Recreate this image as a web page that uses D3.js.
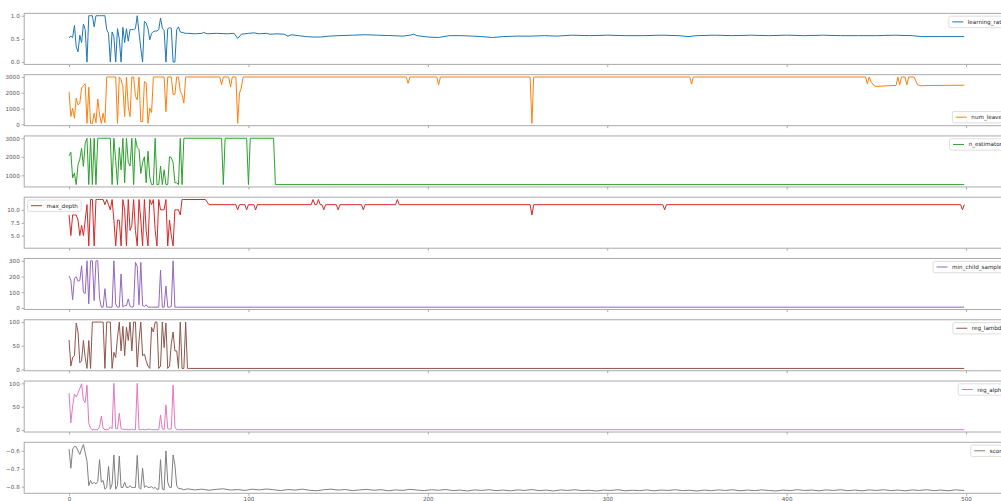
<!DOCTYPE html>
<html><head><meta charset="utf-8">
<script src="https://cdn.jsdelivr.net/npm/d3@7"></script>
<style>
body{margin:0;background:#fff;overflow:hidden}
svg{display:block}
text{font-family:"DejaVu Sans",sans-serif}
</style></head>
<body><svg id="c" width="1001" height="501"></svg>
<script>
// ---- data ----
const iterTicks = [0,100,200,300,400,500];

const learningRateHead = [0.52,0.56,0.53,0.79,0.33,0.22,0.58,0.42,0.82,0.70,0.0,1.0,1.0,1.0,0.76,1.0,1.0,1.0,1.0,1.0,1.0,0.70,0.62,0.0,0.65,0.55,0.0,0.72,0.50,0.0,0.75,0.42,0.72,0.45,0.70,0.70,0.70,0.72,1.0,0.63,0.30,0.0,0.88,0.84,0.72,0.48,0.62,0.66,0.67,0.67,0.70,0.95,0.73,0.68,0.0,0.72,0.74,0.73,0.0,0.0,0.70,0.76,0.65,0.64,0.63,0.62,0.62];
const learningRateTail = [[70,0.61],[74,0.62],[75,0.64],[77,0.61],[82,0.62],[88,0.61],[92,0.62],[94,0.51],[96,0.60],[100,0.62],[103,0.63],[106,0.61],[110,0.62],[112,0.60],[116,0.61],[120,0.60],[122,0.56],[124,0.59],[128,0.57],[132,0.55],[136,0.54],[140,0.54],[145,0.56],[150,0.57],[158,0.58],[165,0.59],[172,0.58],[180,0.57],[186,0.56],[190,0.58],[192,0.60],[194,0.57],[200,0.54],[206,0.53],[212,0.57],[218,0.57],[225,0.56],[230,0.55],[236,0.53],[242,0.55],[250,0.56],[258,0.56],[265,0.57],[272,0.56],[280,0.58],[290,0.57],[300,0.58],[310,0.57],[320,0.57],[330,0.58],[340,0.57],[345,0.55],[350,0.57],[360,0.58],[370,0.57],[380,0.58],[390,0.57],[400,0.58],[410,0.57],[420,0.58],[430,0.57],[440,0.57],[450,0.57],[460,0.58],[470,0.57],[475,0.55],[485,0.55],[499,0.55]];
const learningRateTicks = [0.0,0.5,1.0];

const numLeavesHead = [2050,490,1020,380,1660,1230,1340,2300,2450,2570,60,2360,60,60,700,100,1600,600,60,700,100,3000,3000,3000,3000,3000,3000,60,3000,2830,2400,490,3000,1130,490,3000,3000,1770,1550,3000,170,170,2720,2620,60,1020,745,3000,3000,3000,3000,3000,3000,3000,800,3000,3000,3000,1900,1900,3000,3000,2090,1870,1340,3000,3000];
const numLeavesTail = [[84,3000],[85,2510],[86,3000],[89,3000],[90,2360],[91,3000],[93,3000],[94,60],[95,1980],[96,2300],[97,3000],[188,3000],[189,2600],[190,3000],[205,3000],[206,2500],[207,3000],[257,3000],[258,60],[259,3000],[346,3000],[347,2550],[348,3000],[444,3000],[445,2570],[446,3000],[447,2700],[449,2420],[450,2400],[455,2440],[461,2460],[462,3000],[463,2500],[464,3000],[466,3000],[467,2500],[468,3000],[471,3000],[473,2500],[475,2440],[480,2460],[490,2470],[499,2480]];
const numLeavesTicks = [0,1000,2000,3000];

const nEstimatorsHead = [2050,2250,860,1125,500,1570,1875,2460,1480,2730,3000,500,3000,500,3000,500,3000,3000,3000,3000,3000,3000,3000,3000,500,3000,1800,500,2500,1300,3000,600,3000,1700,1500,3000,500,3000,2500,2400,1100,1700,2000,600,2300,900,500,500,3000,500,500,1500,500,1300,500,500,2000,1950,1700,600,600,500,3000,500,3000];
const nEstimatorsTail = [[85,3000],[86,500],[87,3000],[99,3000],[100,500],[101,3000],[114,3000],[115,500],[499,500]];
const nEstimatorsTicks = [1000,2000,3000];

const maxDepthHead = [9,5,9,9,9,8,5,7,5,8,11,3,12,12,3,12,12,12,12,12,11,12,11,10,12,8,3,8,8,3,12,10,3,12,6,7,12,6,3,12,8,3,12,6,3,12,11,12,6,3,12,10,10,10,12,3,8,5,3,10,10,10,9,12];
const maxDepthTail = [[64,12],[76,12],[78,11],[93,11],[94,10],[95,11],[98,11],[99,10],[100,11],[103,11],[104,10],[105,11],[135,11],[136,12],[137,11],[138,11],[139,12],[140,11],[141,11],[142,10],[143,11],[149,11],[150,10],[151,11],[163,11],[164,10],[165,11],[182,11],[183,12],[184,11],[257,11],[258,9],[259,11],[331,11],[332,10],[333,11],[497,11],[498,10],[499,11]];
const maxDepthTicks = [5.0,7.5,10.0];

const minChildSamplesHead = [203,177,52,188,199,170,175,268,100,91,300,26,300,300,47,300,300,60,5,5,123,5,5,5,5,300,26,5,5,216,5,15,15,58,10,5,10,290,265,20,290,15,10,20,5,5,5,5,5,5,5,240,5,5,140,5,5,10,300,5];
const minChildSamplesTail = [[60,5],[499,5]];
const minChildSamplesTicks = [0,100,200,300];

const regLambdaHead = [62,7,25,29,98,79,14,18,61,25,2,61,2,100,100,100,100,100,100,100,2,100,100,100,2,36,25,68,100,39,91,29,89,61,100,39,100,100,5,61,100,29,32,18,7,2,89,79,100,100,2,7,100,46,98,2,7,54,79,39,39,2,100,2,2,100,2];
const regLambdaTail = [[67,2],[499,2]];
const regLambdaTicks = [0,50,100];

const regAlphaHead = [79,16,51,77,71,79,89,99,64,59,96,14,4,1,1,1,1,7,30,4,1,1,1,7,3,100,3,3,36,3,2,1,2,1,1,2,1,1,100,1,1,2,1,1,2,2,1,1,1,1,1,32,3,1,54,3,2,3,96,7,1];
const regAlphaTail = [[61,1],[499,1]];
const regAlphaTicks = [0,50,100];

const scoreHead = [-0.590,-0.697,-0.590,-0.575,-0.577,-0.600,-0.620,-0.590,-0.565,-0.610,-0.658,-0.794,-0.765,-0.785,-0.775,-0.785,-0.771,-0.649,-0.775,-0.765,-0.814,-0.804,-0.687,-0.814,-0.785,-0.623,-0.814,-0.794,-0.629,-0.804,-0.804,-0.775,-0.804,-0.804,-0.795,-0.804,-0.804,-0.804,-0.625,-0.804,-0.814,-0.697,-0.804,-0.795,-0.804,-0.804,-0.800,-0.810,-0.804,-0.814,-0.814,-0.649,-0.814,-0.818,-0.600,-0.775,-0.804,-0.804,-0.623,-0.678,-0.795,-0.810,-0.810,-0.814,-0.818];
const scoreTail = [[66,-0.812],[70,-0.818],[74,-0.814],[78,-0.820],[82,-0.815],[86,-0.812],[90,-0.819],[94,-0.816],[98,-0.821],[102,-0.814],[106,-0.818],[110,-0.813],[114,-0.817],[118,-0.822],[122,-0.816],[126,-0.819],[130,-0.814],[134,-0.820],[138,-0.823],[142,-0.817],[146,-0.814],[150,-0.819],[154,-0.816],[158,-0.822],[162,-0.818],[166,-0.815],[170,-0.820],[174,-0.817],[178,-0.823],[182,-0.818],[186,-0.821],[190,-0.815],[194,-0.819],[198,-0.822],[202,-0.817],[206,-0.820],[210,-0.816],[214,-0.822],[218,-0.819],[222,-0.824],[226,-0.818],[230,-0.821],[234,-0.817],[238,-0.822],[242,-0.819],[246,-0.823],[250,-0.818],[254,-0.821],[258,-0.816],[262,-0.822],[266,-0.819],[270,-0.824],[274,-0.818],[278,-0.821],[282,-0.817],[286,-0.822],[290,-0.820],[294,-0.824],[298,-0.819],[302,-0.821],[306,-0.817],[310,-0.823],[314,-0.820],[318,-0.822],[322,-0.818],[326,-0.823],[330,-0.819],[334,-0.821],[338,-0.817],[342,-0.822],[346,-0.820],[350,-0.824],[354,-0.819],[358,-0.822],[362,-0.818],[366,-0.821],[370,-0.817],[374,-0.823],[378,-0.819],[382,-0.822],[386,-0.818],[390,-0.821],[394,-0.824],[398,-0.819],[402,-0.822],[406,-0.817],[410,-0.821],[414,-0.819],[418,-0.823],[422,-0.818],[426,-0.821],[430,-0.817],[434,-0.822],[438,-0.819],[442,-0.823],[446,-0.818],[450,-0.821],[454,-0.817],[458,-0.822],[462,-0.819],[466,-0.823],[470,-0.818],[474,-0.821],[478,-0.817],[482,-0.822],[486,-0.819],[490,-0.823],[494,-0.818],[499,-0.821]];
const scoreTicks = [-0.8,-0.7,-0.6];

const seriesNames = ["learning_rate","num_leaves","n_estimators","max_depth","min_child_samples","reg_lambda","reg_alpha","score"];
const seriesColors = ["#1f77b4","#ff7f0e","#2ca02c","#d62728","#9467bd","#8c564b","#e377c2","#7f7f7f"];

// ---- chart ----
const panels = [
  {head:learningRateHead, tail:learningRateTail, ticks:learningRateTicks, fmt:d3.format(".1f"), legend:"ur"},
  {head:numLeavesHead, tail:numLeavesTail, ticks:numLeavesTicks, fmt:d3.format("d"), legend:"lr"},
  {head:nEstimatorsHead, tail:nEstimatorsTail, ticks:nEstimatorsTicks, fmt:d3.format("d"), legend:"ur"},
  {head:maxDepthHead, tail:maxDepthTail, ticks:maxDepthTicks, fmt:d3.format(".1f"), legend:"ul"},
  {head:minChildSamplesHead, tail:minChildSamplesTail, ticks:minChildSamplesTicks, fmt:d3.format("d"), legend:"ur"},
  {head:regLambdaHead, tail:regLambdaTail, ticks:regLambdaTicks, fmt:d3.format("d"), legend:"ur"},
  {head:regAlphaHead, tail:regAlphaTail, ticks:regAlphaTicks, fmt:d3.format("d"), legend:"ur"},
  {head:scoreHead, tail:scoreTail, ticks:scoreTicks, fmt:d3.format(".1f"), legend:"ur"}
];

const svg = d3.select("#c");
const x = d3.scaleLinear().domain([-25, 525]).range([24.2, 1010.9]);
const top0 = 13.4, pitch = 61.27, ph = 51;
const fs = 5.6;
const spineColor = "#aaaaaa";

panels.forEach((p, i) => {
  const top = top0 + pitch * i, bot = top + ph;
  const pts = p.head.map((v, k) => [k, v]).concat(p.tail);
  const ext = d3.extent(pts, d => d[1]);
  const pad = (ext[1] - ext[0]) * 0.05;
  const y = d3.scaleLinear().domain([ext[0] - pad, ext[1] + pad]).range([bot, top]);
  const g = svg.append("g");

  const cid = "clip" + i;
  svg.append("clipPath").attr("id", cid).append("rect")
    .attr("x", x.range()[0]).attr("y", top).attr("width", x.range()[1] - x.range()[0]).attr("height", ph);

  g.append("path").datum(pts)
    .attr("clip-path", `url(#${cid})`)
    .attr("fill", "none").attr("stroke", seriesColors[i]).attr("stroke-width", 1)
    .attr("stroke-linejoin", "round")
    .attr("d", d3.line().x(d => x(d[0])).y(d => y(d[1])));

  // spines
  g.append("rect").attr("x", x.range()[0]).attr("y", top)
    .attr("width", x.range()[1] - x.range()[0]).attr("height", ph)
    .attr("fill", "none").attr("stroke", spineColor).attr("stroke-width", 1);

  // y axis
  const ya = g.append("g").attr("transform", `translate(${x.range()[0]},0)`)
    .call(d3.axisLeft(y).tickValues(p.ticks).tickSize(2.5).tickPadding(2).tickFormat(p.fmt));
  ya.select(".domain").remove();
  ya.selectAll("line").attr("stroke", spineColor);
  ya.selectAll("text").attr("font-size", fs).attr("fill", "#555").attr("font-family", "DejaVu Sans");

  // x axis
  const xa = g.append("g").attr("transform", `translate(0,${bot})`)
    .call(d3.axisBottom(x).tickValues(iterTicks).tickSize(2.5).tickPadding(1.5)
      .tickFormat(i === panels.length - 1 ? d3.format("d") : ""));
  xa.select(".domain").remove();
  xa.selectAll("line").attr("stroke", spineColor);
  xa.selectAll("text").attr("font-size", fs).attr("fill", "#555").attr("font-family", "DejaVu Sans");

  // legend
  const lg = g.append("g");
  const box = lg.append("rect").attr("fill", "white").attr("fill-opacity", 0.8)
    .attr("stroke", "#d6d6d6").attr("stroke-width", 0.8).attr("rx", 1.5);
  const bh = 11.4;
  lg.append("line").attr("x1", 3.4).attr("x2", 14.4).attr("y1", bh / 2).attr("y2", bh / 2)
    .attr("stroke", seriesColors[i]).attr("stroke-width", 1);
  const t = lg.append("text").attr("x", 19).attr("y", bh / 2 + 2).attr("font-size", fs)
    .attr("fill", "#222").text(seriesNames[i]);
  const tw = t.node().getComputedTextLength();
  const bw = 19 + tw + 3.3;
  box.attr("width", bw).attr("height", bh);
  const bap = 2.8;
  let lx, ly;
  if (p.legend === "ul") { lx = x.range()[0] + bap + 0.6; ly = top + bap; }
  else if (p.legend === "lr") { lx = x.range()[1] - bap - bw; ly = bot - bap - bh; }
  else { lx = x.range()[1] - bap - bw; ly = top + bap; }
  lg.attr("transform", `translate(${lx},${ly})`);
});
</script></body></html>
